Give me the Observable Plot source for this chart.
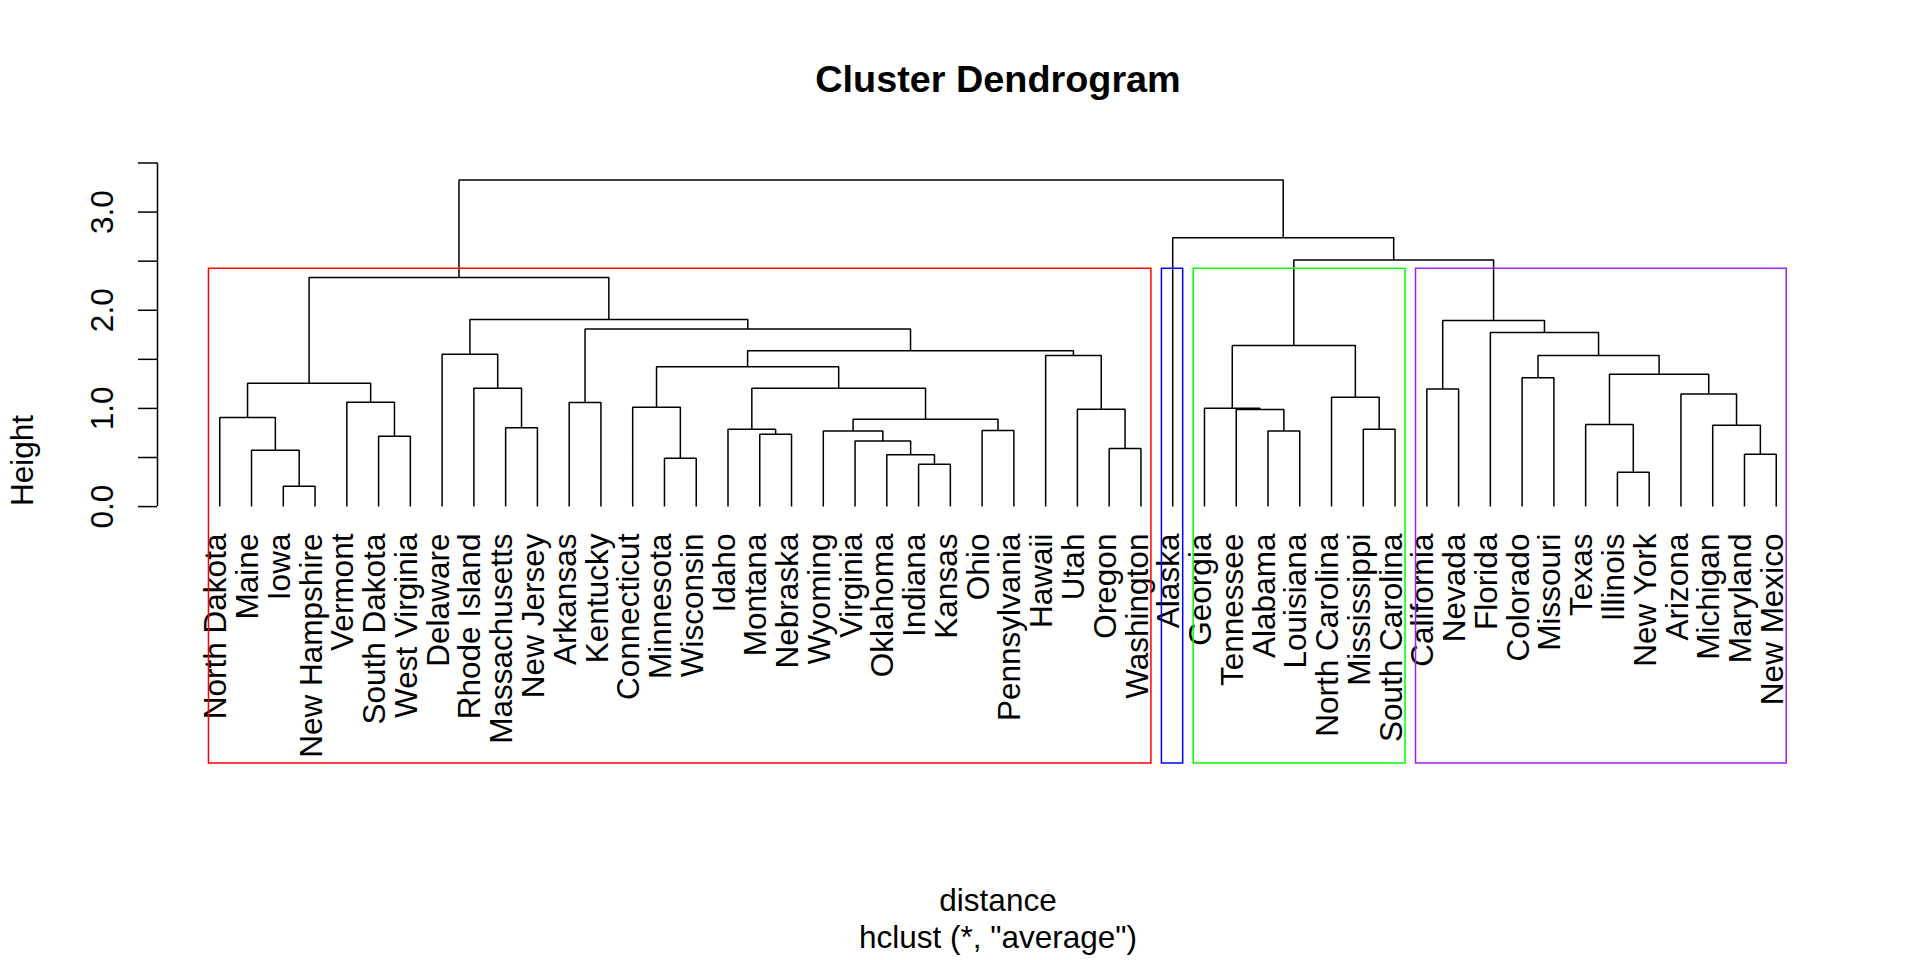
<!DOCTYPE html>
<html>
<head>
<meta charset="utf-8">
<script src="https://cdn.jsdelivr.net/npm/d3@7"></script>
<script src="https://cdn.jsdelivr.net/npm/@observablehq/plot@0.6"></script>
<style>
  html, body { margin: 0; padding: 0; background: #ffffff; }
  #chart svg { display: block; }
</style>
</head>
<body>
<div id="chart"></div>
<script>
// ---------- DATA ----------
const leaves = [
  "North Dakota","Maine","Iowa","New Hampshire","Vermont","South Dakota","West Virginia",
  "Delaware","Rhode Island","Massachusetts","New Jersey","Arkansas","Kentucky","Connecticut",
  "Minnesota","Wisconsin","Idaho","Montana","Nebraska","Wyoming","Virginia","Oklahoma",
  "Indiana","Kansas","Ohio","Pennsylvania","Hawaii","Utah","Oregon","Washington","Alaska",
  "Georgia","Tennessee","Alabama","Louisiana","North Carolina","Mississippi","South Carolina",
  "California","Nevada","Florida","Colorado","Missouri","Texas","Illinois","New York",
  "Arizona","Michigan","Maryland","New Mexico"
];

// merge steps: [left child, right child] -- a leaf name or the 1-based number of an earlier merge
const mergeChildren = [
  ["Iowa","New Hampshire"], ["Illinois","New York"], ["Indiana","Kansas"], ["Minnesota","Wisconsin"],
  ["Oklahoma",3], ["Maryland","New Mexico"], ["Maine",1], ["Oregon","Washington"],
  ["Virginia",5], ["South Dakota","West Virginia"], ["Montana","Nebraska"], ["Wyoming",9],
  ["Alabama","Louisiana"], ["Ohio","Pennsylvania"], ["Idaho",11], ["Mississippi","South Carolina"],
  ["Massachusetts","New Jersey"], ["Michigan",6], ["Texas",2], [12,14],
  ["North Dakota",7], ["Tennessee",13], ["Utah",8], ["Georgia",22],
  ["Connecticut",4], ["Arkansas","Kentucky"], ["Vermont",10], ["North Carolina",16],
  ["Arizona",18], ["California","Nevada"], [15,20], ["Rhode Island",17],
  [21,27], ["Colorado","Missouri"], [19,29], [25,31],
  [34,35], ["Hawaii",23], ["Delaware",32], [36,38],
  [24,28], ["Florida",37], [26,40], [30,42],
  [39,43], [33,45], [41,44], ["Alaska",47], [46,48]
];
// merge heights (same order)
const mergeHeights = [
  0.207, 0.350, 0.432, 0.493, 0.527, 0.533, 0.574, 0.591,
  0.669, 0.717, 0.737, 0.771, 0.771, 0.775, 0.788, 0.788,
  0.802, 0.829, 0.836, 0.890, 0.907, 0.989, 0.992, 1.002,
  1.013, 1.060, 1.064, 1.115, 1.148, 1.199, 1.206, 1.206,
  1.257, 1.312, 1.349, 1.424, 1.539, 1.539, 1.553, 1.587,
  1.641, 1.774, 1.808, 1.896, 1.906, 2.334, 2.511, 2.739, 3.327
];

const k = 4;
const clusterColors = ["#FF0000", "#0000FF", "#00FF00", "#A020F0"];

const yTicks = [0, 0.5, 1, 1.5, 2, 2.5, 3, 3.5];
const yTickLabels = ["0.0", "1.0", "2.0", "3.0"];
const yTickLabelValues = [0, 1, 2, 3];
const yDomain = [-2.617, 3.556];

const titleText = "Cluster Dendrogram";
const xLabelText = "distance";
const subText = 'hclust (*, "average")';
const yLabelText = "Height";

// ---------- TREE LAYOUT ----------
const n = leaves.length;
const leafIndex = new Map(leaves.map((d, i) => [d, i + 1]));
const nodes = [];
function child(c) {
  if (typeof c === "number") return nodes[c - 1];
  const p = leafIndex.get(c);
  return {x: p, h: 0, lo: p, hi: p};
}
mergeChildren.forEach(([a, b], i) => {
  const A = child(a), B = child(b);
  nodes.push({
    id: i + 1, A, B, h: mergeHeights[i],
    x: (A.x + B.x) / 2, lo: Math.min(A.lo, B.lo), hi: Math.max(A.hi, B.hi)
  });
});

const elbows = [];
nodes.forEach(nd => {
  elbows.push({id: nd.id, x: nd.A.x, y: nd.A.h});
  elbows.push({id: nd.id, x: nd.A.x, y: nd.h});
  elbows.push({id: nd.id, x: nd.B.x, y: nd.h});
  elbows.push({id: nd.id, x: nd.B.x, y: nd.B.h});
});

// cut into k clusters
const topMerges = new Set(nodes.slice(nodes.length - (k - 1)));
const roots = [];
topMerges.forEach(nd => [nd.A, nd.B].forEach(c => { if (!topMerges.has(c)) roots.push(c); }));
roots.sort((a, b) => a.lo - b.lo);
const sortedH = mergeHeights.slice().sort((a, b) => b - a);
const cutHeight = (sortedH[k - 2] + sortedH[k - 1]) / 2;
const boxes = roots.map((r, i) => ({
  x1: r.lo - 1 + 0.66, x2: r.hi + 0.33, y1: yDomain[0], y2: cutHeight, color: clusterColors[i]
}));

const xDomain = [1 - 0.04 * (n - 1), n + 0.04 * (n - 1)];

// ---------- PLOT ----------
const FONT = "'Liberation Sans', Arial, Helvetica, sans-serif";
const fs = 31.5;

const chart = Plot.plot({
  width: 1920,
  height: 960,
  marginTop: 157,
  marginBottom: 197,
  marginLeft: 157,
  marginRight: 82,
  x: {domain: xDomain, axis: null},
  y: {domain: yDomain, axis: null},
  color: {type: "identity"},
  style: {fontFamily: FONT, fontSize: fs + "px", background: "#ffffff", color: "#000000"},
  marks: [
    // dendrogram
    Plot.line(elbows, {x: "x", y: "y", z: "id", stroke: "#000000", strokeWidth: 1.5,
      strokeLinejoin: "miter", strokeLinecap: "butt"}),
    // leaf labels
    Plot.text(leaves, {
      x: (d) => leafIndex.get(d), y: () => 0, text: (d) => d,
      rotate: -90, textAnchor: "end", lineAnchor: "middle", dy: 27, dx: -3.5,
      fontSize: fs, fill: "#000000"
    }),
    // y axis
    Plot.axisY({ticks: yTicks, tickSize: 19, tickFormat: () => "", anchor: "left",
      label: null, strokeWidth: 1.5, stroke: "#000000"}),
    Plot.ruleX([xDomain[0]], {x: (d) => d, y1: yTicks[0], y2: yTicks[yTicks.length - 1],
      stroke: "#000000", strokeWidth: 1.5}),
    Plot.text(yTickLabelValues, {
      y: (d) => d, text: (d, i) => yTickLabels[i], frameAnchor: "left",
      rotate: -90, textAnchor: "middle", lineAnchor: "bottom", dx: -45,
      fontSize: fs, fill: "#000000"
    }),
    // cluster boxes
    Plot.rect(boxes, {x1: "x1", x2: "x2", y1: "y1", y2: "y2", stroke: "color",
      fill: "none", strokeWidth: 1.5}),
    // titles
    Plot.text([titleText], {frameAnchor: "top", lineAnchor: "bottom", dy: -66,
      fontWeight: "bold", fontSize: 37.8, fill: "#000000"}),
    Plot.text([xLabelText], {frameAnchor: "bottom", lineAnchor: "bottom", dy: 147,
      fontSize: fs, fill: "#000000"}),
    Plot.text([subText], {frameAnchor: "bottom", lineAnchor: "bottom", dy: 184,
      fontSize: fs, fill: "#000000"}),
    Plot.text([yLabelText], {frameAnchor: "left", rotate: -90, textAnchor: "middle",
      lineAnchor: "bottom", dx: -125, fontSize: fs, fill: "#000000"})
  ]
});
document.getElementById("chart").appendChild(chart);
</script>
</body>
</html>
